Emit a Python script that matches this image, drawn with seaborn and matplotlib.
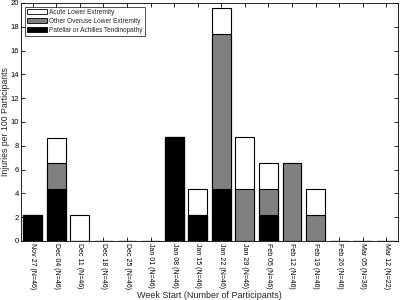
import numpy as np
import pandas as pd
import matplotlib
matplotlib.use('Agg')
import matplotlib.pyplot as plt
import seaborn as sns
from matplotlib.patches import Patch

weeks = ['Nov 27 (N=46)', 'Dec 04 (N=46)', 'Dec 11 (N=46)', 'Dec 18 (N=46)',
         'Dec 25 (N=46)', 'Jan 01 (N=46)', 'Jan 08 (N=46)', 'Jan 15 (N=46)',
         'Jan 22 (N=46)', 'Jan 29 (N=46)', 'Feb 05 (N=46)', 'Feb 12 (N=46)',
         'Feb 19 (N=46)', 'Feb 26 (N=46)', 'Mar 05 (N=36)', 'Mar 12 (N=22)']
tendinopathy = [2.17, 4.35, 0, 0, 0, 0, 8.70, 2.17, 4.35, 0, 2.17, 0, 0, 0, 0, 0]
overuse = [0, 2.17, 0, 0, 0, 0, 0, 0, 13.04, 4.35, 2.17, 6.52, 2.17, 0, 0, 0]
acute = [0, 2.17, 2.17, 0, 0, 0, 0, 2.17, 2.17, 4.35, 2.17, 0, 2.17, 0, 0, 0]

df = pd.DataFrame({'week': weeks, 'tend': tendinopathy, 'over': overuse, 'acute': acute})
df['mid'] = df['tend'] + df['over']
df['total'] = df['mid'] + df['acute']

sns.set_theme(style="white")
plt.rcParams['font.family'] = ['Liberation Sans', 'DejaVu Sans']

fig = plt.figure(figsize=(4, 3), dpi=100)
ax = fig.add_axes([0.0525, 0.197, 0.9425, 0.793])

# stacked bars drawn as layered cumulative totals
kw = dict(ax=ax, order=weeks, saturation=1, width=0.8, edgecolor='black', linewidth=0.8)
sns.barplot(data=df, x='week', y='total', color='white', **kw)
sns.barplot(data=df, x='week', y='mid', color='#808080', **kw)
sns.barplot(data=df, x='week', y='tend', color='black', **kw)

ax.set_xlim(-0.5, 15.5)
ax.set_ylim(0, 20)
ax.set_yticks(np.arange(0, 21, 2))
ax.tick_params(axis='both', direction='in', length=3, width=0.6, labelsize=5.5,
               top=True, right=True, bottom=True, left=True, pad=1.5, colors='black')
ax.tick_params(axis='x', labelrotation=270, labelsize=5)
for lab in ax.get_xticklabels():
    lab.set_va('top')
ax.set_xlabel('Week Start (Number of Participants)', fontsize=6.5, labelpad=1)
ax.set_ylabel('Injuries per 100 Participants', fontsize=6.3, labelpad=0.5)
for s in ax.spines.values():
    s.set_color('black')
    s.set_linewidth(0.6)

handles = [Patch(facecolor='white', edgecolor='black', linewidth=0.6, label='Acute Lower Extremity'),
           Patch(facecolor='#808080', edgecolor='black', linewidth=0.6, label='Other Overuse Lower Extremity'),
           Patch(facecolor='black', edgecolor='black', linewidth=0.6, label='Patellar or Achilles Tendinopathy')]
leg = ax.legend(handles=handles, loc='upper left', fontsize=4.7, frameon=True, fancybox=False,
                edgecolor='black', handlelength=3.1, handleheight=0.9, borderpad=0.3,
                labelspacing=0.3, handletextpad=0.3, borderaxespad=0.6)
leg.get_frame().set_linewidth(0.6)

fig.savefig('out.png', dpi=100)
